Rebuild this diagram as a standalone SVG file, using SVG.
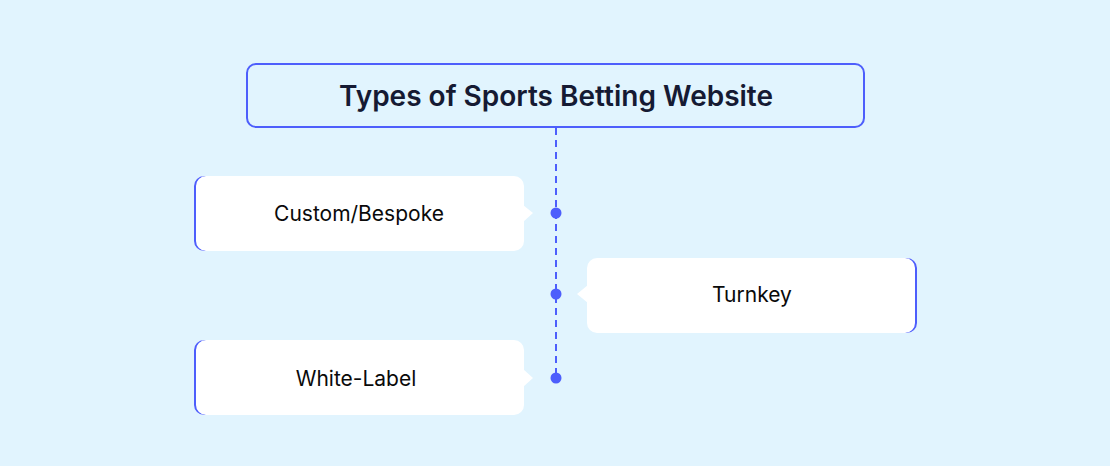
<svg xmlns="http://www.w3.org/2000/svg" width="1110" height="466" viewBox="0 0 1110 466">
<style>
.card{fill:#ffffff}
.edge{fill:#4d5efc}
.lbl{font-family:Inter,"Liberation Sans",sans-serif;font-size:21px;fill:#0a0a0a;text-anchor:middle}
.title{font-family:Inter,"Liberation Sans",sans-serif;font-size:28px;font-weight:600;fill:#151a33;text-anchor:middle}
.dot{fill:#4d5efc}
</style>
<rect x="0" y="0" width="1110" height="466" fill="#e1f4fe"/>
<g id="connectors">
<line x1="556" y1="128" x2="556" y2="378" stroke="#4d5efc" stroke-width="2" stroke-dasharray="7 5"/>
<circle class="dot" cx="556" cy="213" r="5.5"/>
<circle class="dot" cx="556" cy="294" r="5.5"/>
<circle class="dot" cx="556" cy="378" r="5.5"/>
</g>
<g id="title">
<rect x="247" y="64" width="617" height="63" rx="9" fill="#e1f4fe" stroke="#4d5efc" stroke-width="2"/>
<text class="title" x="556" y="106">Types of Sports Betting Website</text>
</g>
<g id="custom">
<rect class="card" x="194" y="176" width="330" height="75" rx="10"/>
<path class="edge" d="M204,176 A10,10 0 0 0 194,186 V241 A10,10 0 0 0 204,251 H206 A10,10 0 0 1 196,241 V186 A10,10 0 0 1 206,176 Z"/>
<polygon class="card" points="523,205 533,213 523,222"/>
<text class="lbl" x="359" y="221">Custom/Bespoke</text>
</g>
<g id="turnkey">
<rect class="card" x="587" y="258" width="330" height="75" rx="10"/>
<path class="edge" d="M907,258 A10,10 0 0 1 917,268 V323 A10,10 0 0 1 907,333 H905 A10,10 0 0 0 915,323 V268 A10,10 0 0 0 905,258 Z"/>
<polygon class="card" points="588,285 577,294 588,303"/>
<text class="lbl" x="752" y="302">Turnkey</text>
</g>
<g id="whitelabel">
<rect class="card" x="194" y="340" width="330" height="75" rx="10"/>
<path class="edge" d="M204,340 A10,10 0 0 0 194,350 V405 A10,10 0 0 0 204,415 H206 A10,10 0 0 1 196,405 V350 A10,10 0 0 1 206,340 Z"/>
<polygon class="card" points="523,369 533,378 523,387"/>
<text class="lbl" x="356" y="386">White-Label</text>
</g>
</svg>
